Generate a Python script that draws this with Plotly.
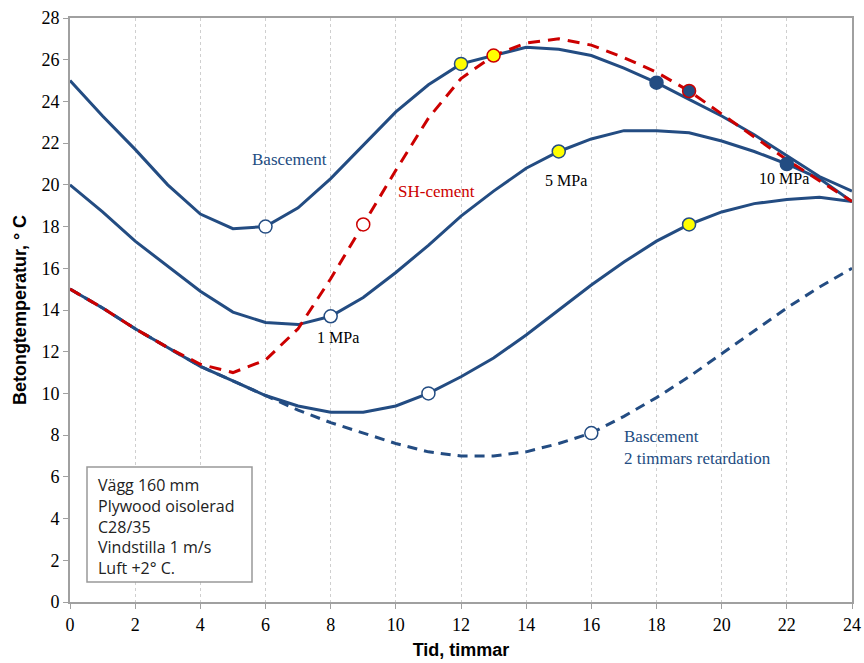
import plotly.graph_objects as go

hours = list(range(0, 25))

bascement_top = [25.0, 23.3, 21.7, 20.0, 18.6, 17.9, 18.0, 18.9, 20.3, 21.9, 23.5, 24.8, 25.8,
                 26.2, 26.6, 26.5, 26.2, 25.6, 24.9, 24.1, 23.3, 22.4, 21.4, 20.4, 19.7]
bascement_mid = [20.0, 18.7, 17.3, 16.1, 14.9, 13.9, 13.4, 13.3, 13.7, 14.6, 15.8, 17.1, 18.5,
                 19.7, 20.8, 21.6, 22.2, 22.6, 22.6, 22.5, 22.1, 21.6, 21.0, 20.3, 19.2]
bascement_low = [15.0, 14.1, 13.1, 12.2, 11.3, 10.6, 9.9, 9.4, 9.1, 9.1, 9.4, 10.0, 10.8,
                 11.7, 12.8, 14.0, 15.2, 16.3, 17.3, 18.1, 18.7, 19.1, 19.3, 19.4, 19.2]
bascement_retard = [15.0, 14.1, 13.1, 12.2, 11.3, 10.6, 9.9, 9.2, 8.6, 8.1, 7.6, 7.2, 7.0,
                    7.0, 7.2, 7.6, 8.1, 8.9, 9.8, 10.8, 11.9, 13.0, 14.1, 15.1, 16.0]
sh_cement = [15.0, 14.1, 13.1, 12.2, 11.4, 11.0, 11.6, 13.1, 15.5, 18.1, 20.7, 23.2, 25.1,
             26.2, 26.8, 27.0, 26.7, 26.1, 25.4, 24.5, 23.4, 22.3, 21.2, 20.2, 19.2]

# marker hours: white (1 MPa), yellow (5 MPa), dark (10 MPa)
markers_top = {"white": [6], "yellow": [12], "dark": [18]}
markers_mid = {"white": [8], "yellow": [15], "dark": [22]}
markers_low = {"white": [11], "yellow": [19], "dark": []}
markers_retard = {"white": [16], "yellow": [], "dark": []}
markers_sh = {"white": [9], "yellow": [13], "dark": [19]}

x_ticks = list(range(0, 25, 2))
y_ticks = list(range(0, 29, 2))

info_lines = ["Vägg 160 mm", "Plywood oisolerad", "C28/35", "Vindstilla 1 m/s", "Luft +2° C."]

BLUE = "#234C82"
RED = "#CC0000"
fills = {"white": "white", "yellow": "#FFFF00", "dark": BLUE}

fig = go.Figure()

for ys, dash in [(bascement_top, "solid"), (bascement_mid, "solid"), (bascement_low, "solid"),
                 (bascement_retard, "10px,7px")]:
    fig.add_trace(go.Scatter(x=hours, y=ys, mode="lines",
                             line=dict(color=BLUE, width=3, dash=dash),
                             showlegend=False, hoverinfo="skip"))
fig.add_trace(go.Scatter(x=hours, y=sh_cement, mode="lines",
                         line=dict(color=RED, width=3, dash="12px,8px"),
                         showlegend=False, hoverinfo="skip"))

for ys, mk, edge in [(bascement_top, markers_top, BLUE), (bascement_mid, markers_mid, BLUE),
                     (bascement_low, markers_low, BLUE), (bascement_retard, markers_retard, BLUE),
                     (sh_cement, markers_sh, RED)]:
    for kind, hs in mk.items():
        if not hs:
            continue
        fig.add_trace(go.Scatter(x=hs, y=[ys[h] for h in hs], mode="markers",
                                 marker=dict(size=13, color=fills[kind], line=dict(color=edge, width=1.5)),
                                 showlegend=False, hoverinfo="skip"))

serif = "Liberation Serif, Times New Roman, serif"
ann = [
    dict(x=6.75, y=21.2, text="Bascement", font=dict(color=BLUE, size=17, family=serif)),
    dict(x=11.26, y=19.7, text="SH-cement", font=dict(color=RED, size=17, family=serif)),
    dict(x=8.23, y=12.66, text="1 MPa", font=dict(color="black", size=16, family=serif)),
    dict(x=15.22, y=20.2, text="5 MPa", font=dict(color="black", size=16, family=serif)),
    dict(x=21.9, y=20.3, text="10 MPa", font=dict(color="black", size=16, family=serif)),
    dict(x=16.95, y=7.4, text="Bascement<br>2 timmars retardation", xanchor="left", align="left",
         font=dict(color=BLUE, size=17, family=serif)),
]
for a in ann:
    a.setdefault("xanchor", "center")
    fig.add_annotation(showarrow=False, xref="x", yref="y", yanchor="middle", **a)

fig.add_shape(type="rect", xref="paper", yref="paper",
              x0=(87 - 70) / 782, x1=(252 - 70) / 782, y0=(602 - 582) / 584, y1=(602 - 467) / 584,
              line=dict(color="#999999", width=1.5), fillcolor="white", layer="above")
fig.add_annotation(xref="paper", yref="paper", x=(96 - 70) / 782, y=(602 - 472) / 584,
                   xanchor="left", yanchor="top", showarrow=False, align="left",
                   text="<br>".join(info_lines),
                   font=dict(family="Open Sans, DejaVu Sans, sans-serif", size=16, color="#222222"))

fig.update_layout(
    width=864, height=663,
    margin=dict(l=70, r=12, t=18, b=61, autoexpand=False),
    paper_bgcolor="white", plot_bgcolor="white",
    font=dict(family=serif, size=18, color="black"),
)
fig.update_xaxes(range=[0, 24], tickvals=x_ticks, showgrid=True, gridcolor="#CFCFCF",
                 griddash="dot", gridwidth=1, showline=True, linecolor="#A0A0A0", linewidth=2,
                 mirror=True, ticks="outside", ticklen=5, tickcolor="#A0A0A0", zeroline=False,
                 automargin=False, tickfont=dict(family=serif, size=18),
                 title=dict(text="<b>Tid, timmar</b>", standoff=10,
                            font=dict(family="Liberation Sans Narrow, Liberation Sans, sans-serif", size=18)))
fig.update_yaxes(range=[0, 28], tickvals=y_ticks, showgrid=False, showline=True,
                 linecolor="#A0A0A0", linewidth=2, mirror=True, ticks="outside", ticklen=5,
                 tickcolor="#A0A0A0", zeroline=False, automargin=False, tickfont=dict(family=serif, size=18),
                 title=dict(text="<b>Betongtemperatur, ° C</b>", standoff=10,
                            font=dict(family="Liberation Sans Narrow, Liberation Sans, sans-serif", size=18)))

fig.write_html("out.html")
